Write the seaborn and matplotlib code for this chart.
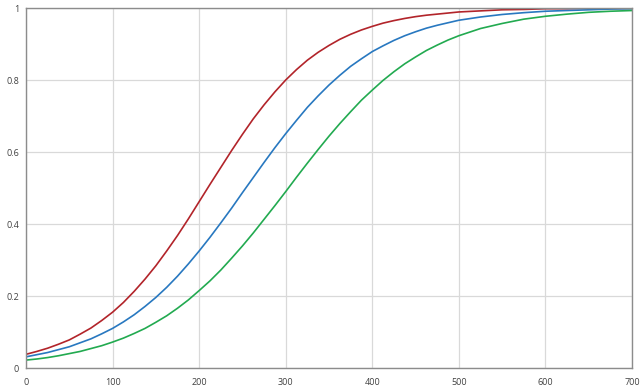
import pandas as pd
import matplotlib
matplotlib.use("Agg")
import matplotlib.pyplot as plt
import seaborn as sns

# x positions read every 12.5 up to 500, then every 25
x_vals = [i * 12.5 for i in range(41)] + list(range(525, 701, 25))

red_vals = [0.038, 0.046, 0.055, 0.066, 0.078, 0.094, 0.111, 0.132, 0.155,
            0.182, 0.213, 0.247, 0.284, 0.325, 0.368, 0.414, 0.462, 0.510,
            0.557, 0.604, 0.649, 0.692, 0.731, 0.767, 0.800, 0.829, 0.855,
            0.877, 0.896, 0.913, 0.927, 0.939, 0.949, 0.958, 0.965, 0.971,
            0.976, 0.980, 0.983, 0.986, 0.989,
            0.992, 0.995, 0.996, 0.998, 0.998, 0.999, 0.999, 0.999]
blue_vals = [0.031, 0.037, 0.043, 0.051, 0.059, 0.070, 0.081, 0.095, 0.110,
             0.128, 0.148, 0.171, 0.196, 0.224, 0.255, 0.289, 0.325, 0.363,
             0.403, 0.444, 0.487, 0.529, 0.571, 0.612, 0.651, 0.688, 0.724,
             0.756, 0.786, 0.813, 0.838, 0.859, 0.879, 0.895, 0.910, 0.923,
             0.934, 0.944, 0.952, 0.959, 0.966,
             0.975, 0.982, 0.987, 0.991, 0.993, 0.995, 0.997, 0.998]
green_vals = [0.022, 0.025, 0.029, 0.034, 0.040, 0.046, 0.054, 0.062, 0.072,
              0.083, 0.096, 0.110, 0.127, 0.145, 0.166, 0.189, 0.215, 0.242,
              0.272, 0.305, 0.339, 0.375, 0.413, 0.451, 0.490, 0.530, 0.569,
              0.607, 0.644, 0.679, 0.712, 0.744, 0.772, 0.799, 0.823, 0.845,
              0.864, 0.882, 0.897, 0.911, 0.923,
              0.943, 0.957, 0.969, 0.977, 0.983, 0.988, 0.991, 0.993]

x_ticks = [0, 100, 200, 300, 400, 500, 600, 700]
y_ticks = [0, 0.2, 0.4, 0.6, 0.8, 1]
y_labels = ["0", "0.2", "0.4", "0.6", "0.8", "1"]

series = {"red": red_vals, "blue": blue_vals, "green": green_vals}
colors = {"red": "#B2242A", "blue": "#2878C0", "green": "#22AA50"}

df = pd.concat([pd.DataFrame({"x": x_vals, "y": v, "s": k}) for k, v in series.items()])

sns.set_theme(style="white")
plt.rcParams['font.family'] = ['Open Sans', 'DejaVu Sans']

fig = plt.figure(figsize=(6.44, 3.88), dpi=100)
ax = fig.add_axes([26 / 644, 20 / 388, 606 / 644, 360 / 388])

sns.lineplot(data=df, x="x", y="y", hue="s", palette=colors, linewidth=1.2,
             legend=False, ax=ax)

ax.set_xlim(0, 700)
ax.set_ylim(0, 1)
ax.set_xticks(x_ticks)
ax.set_yticks(y_ticks)
ax.set_yticklabels(y_labels)
ax.set_xlabel("")
ax.set_ylabel("")
ax.grid(True, color="#D9D9D9", linewidth=0.9)
ax.set_axisbelow(True)
for sp in ax.spines.values():
    sp.set_color("#8C8C8C")
    sp.set_linewidth(1.0)
ax.tick_params(axis="x", length=3, width=0.8, color="#8C8C8C", labelsize=6.5,
               labelcolor="#404040", pad=4)
ax.tick_params(axis="y", length=0, labelsize=6.5, labelcolor="#404040", pad=5)

fig.savefig("out.png", dpi=100)
